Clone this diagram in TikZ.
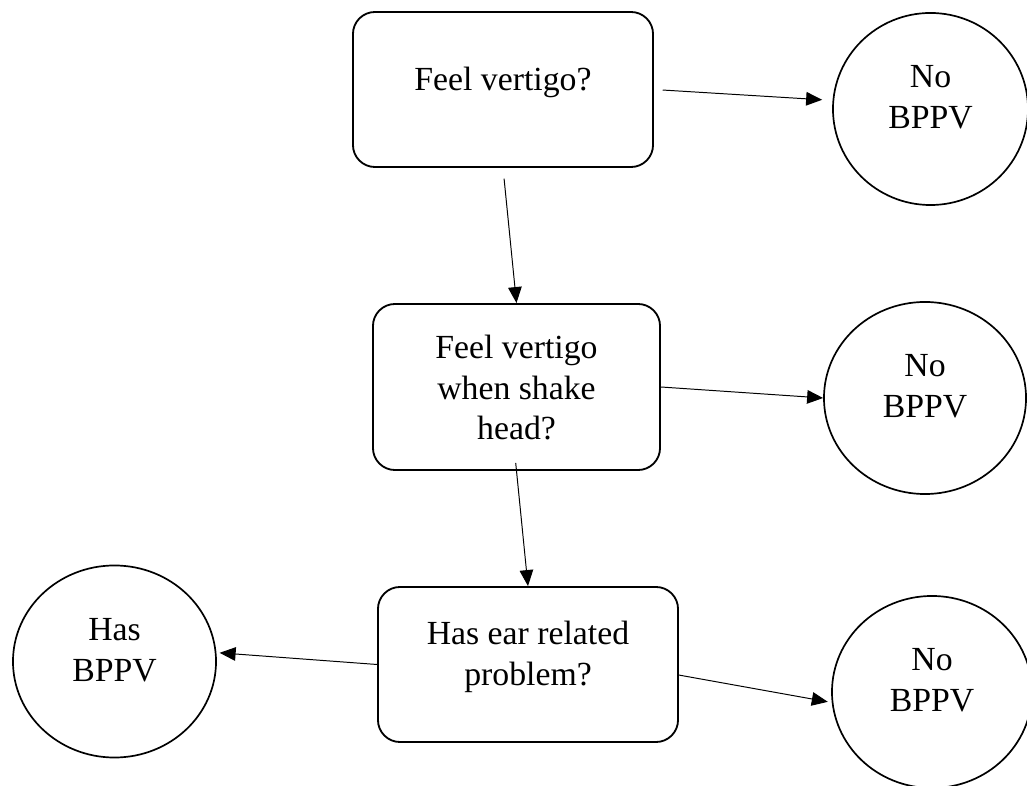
\documentclass[tikz,border=0pt]{standalone}
\usepackage{fontspec}
\setmainfont{Liberation Serif}
\usetikzlibrary{arrows.meta}
\usetikzlibrary{shapes.geometric}

\newcommand{\liftup}[2]{\vbox{\hbox{\begin{tabular}{@{}c@{}}#2\end{tabular}}\vskip #1}}

\begin{document}
\begin{tikzpicture}[
            x=0.025cm, y=-0.025cm,
            >={Triangle[length=0.4cm, width=0.34cm]},
            roundednode/.style={rectangle, rounded corners=0.55cm, draw=black, line width=1.3pt, minimum width=7.5cm, minimum height=3.875cm, inner sep=0pt, font=\fontsize{24}{29}\selectfont},
            circlenode/.style={ellipse, draw=black, line width=1.2pt, minimum width=5cm, minimum height=4.8cm, inner sep=0pt, font=\fontsize{24}{29}\selectfont},
            arrowline/.style={->, line width=0.7pt},
        ]

        \useasboundingbox (0,0) rectangle (1027,786);

        % Nodes.
        \node[roundednode] (feel_vertigo) at (503,89.5) {\liftup{10.6pt}{Feel vertigo?}};
        \node[roundednode, minimum width=7.175cm, minimum height=4.15cm] (shake_head) at (516.5,387) {\liftup{-5.6pt}{Feel vertigo\\when shake\\head?}};
        \node[roundednode] (ear_problem) at (528,664.5) {\liftup{10.6pt}{Has ear related\\problem?}};
        \node[circlenode, minimum width=4.875cm] (no_bppv_top) at (930.5,109) {\liftup{12.5pt}{No\\BPPV}};
        \node[circlenode, minimum width=5.05cm]  (no_bppv_mid) at (925,398)   {\liftup{12.5pt}{No\\BPPV}};
        \node[circlenode]                        (no_bppv_low) at (932,692)   {\liftup{12.5pt}{No\\BPPV}};
        \node[circlenode, minimum width=5.075cm] (has_bppv)    at (114.5,661.5) {\liftup{12.5pt}{Has\\BPPV}};

        % Lines.
        \draw[arrowline, shorten <=0.22cm, shorten >=0.26cm] (feel_vertigo.east) -- (no_bppv_top.175);
        \draw[arrowline, shorten <=0.27cm] (feel_vertigo.south) -- (shake_head.north);
        \draw[arrowline] (shake_head.east) -- (no_bppv_mid.west);
        \draw[arrowline, shorten <=-0.2cm] (shake_head.south) -- (ear_problem.north);
        \draw[arrowline, shorten >=0.1cm] (ear_problem.-4) -- (no_bppv_low.186);
        \draw[arrowline, shorten >=0.08cm] (ear_problem.west) -- (has_bppv.5);
    \end{tikzpicture}
\end{document}
